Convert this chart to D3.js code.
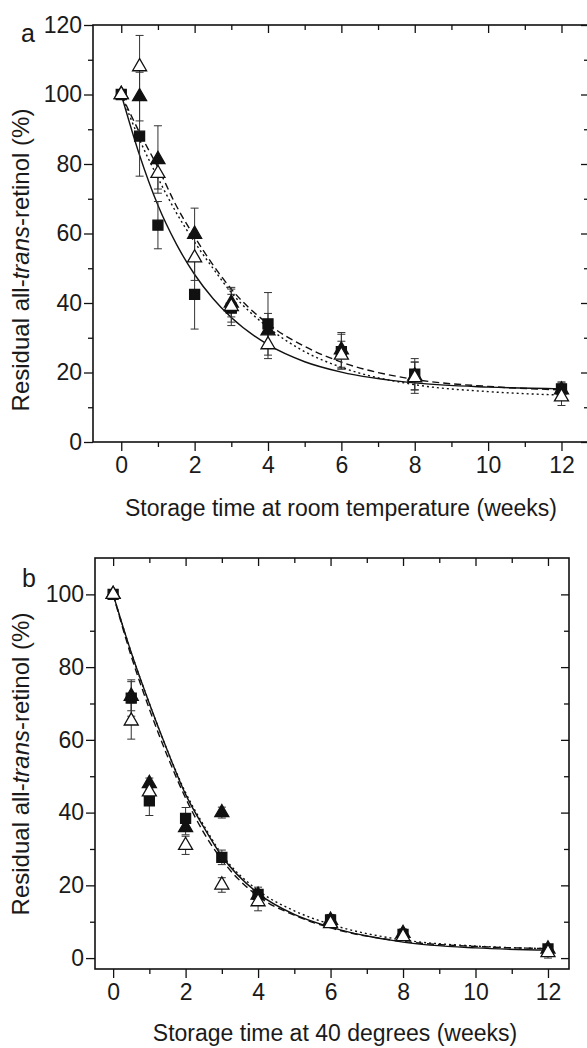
<!DOCTYPE html>
<html lang="en">
<head>
<meta charset="UTF-8">
<title>Residual all-trans-retinol</title>
<script src="https://cdn.jsdelivr.net/npm/d3@7"></script>
<style>
  body { margin: 0; background: #fff; }
  text { font-family: "Liberation Sans", Arial, sans-serif; fill: #1a1a1a; }
</style>
</head>
<body>
<script>
// sampling weeks
var weeks = [0, 0.5, 1, 2, 3, 4, 6, 8, 12];
var fitWeeks = [0, 0.5, 1, 1.5, 2, 2.5, 3, 4, 5, 6, 8, 10, 12];

// panel a - room temperature
var roomSquare      = [100, 88, 62.4, 42.5, 38.5, 34, 26, 19.5, 15.3];
var roomSquareErr   = [0, 11.5, 6.8, 10, 4, 9, 5, 4.5, 2];
var roomFilled      = [100, 99.4, 81.3, 59.8, 40, 32, 26.5, 19, 15];
var roomFilledErr   = [0, 7, 9.7, 7.5, 4, 5, 5, 4, 2];
var roomOpen        = [100, 108, 77.3, 53, 39, 28, 25, 18.5, 13];
var roomOpenErr     = [0, 9, 4.5, 6.5, 5.5, 4, 4, 4.5, 2.5];
var roomFitSolid    = [100, 82.5, 68.1, 57.0, 48.2, 41.3, 35.8, 28.0, 23.1, 20.1, 17.0, 15.8, 15.3];
var roomFitDashed   = [100, 89, 79, 68, 59, 51, 44, 34, 27.5, 23, 18, 16, 15];
var roomFitDotted   = [100, 87, 76, 66, 57.5, 50, 43, 33, 26, 21.5, 16.5, 14.5, 13.5];

// panel b - 40 degrees
var hotSquare      = [100, 71.5, 43.2, 38.4, 27.7, 17.5, 10.5, 6.5, 2.5];
var hotSquareErr   = [0, 5, 4, 3, 2, 2, 1.5, 1.5, 1];
var hotFilled      = [100, 72, 48, 35.9, 40, 17.3, 10.4, 6.8, 2.5];
var hotFilledErr   = [0, 4, 1.5, 2, 1.5, 1.5, 1, 1, 1];
var hotOpen        = [100, 65.2, 45.7, 31, 20.1, 15.5, 9.5, 5.9, 1.5];
var hotOpenErr     = [0, 5, 1.5, 2.5, 2, 2.5, 1, 1, 1.5];
var hotFitSolid    = [100, 84, 70, 57, 45, 36, 28, 17.8, 12, 8.5, 4.4, 2.8, 2.2];
var hotFitDashed   = [100, 83, 68.5, 55.5, 44, 34.5, 27, 17, 11.8, 8.3, 4.6, 3.2, 2.6];
var hotFitDotted   = [100, 84, 70, 57, 45.5, 36.5, 28.5, 18.6, 13, 9.3, 5, 3.3, 2.6];

var xMajor = [0, 2, 4, 6, 8, 10, 12];
var xMinor = [1, 3, 5, 7, 9, 11];

var svg = d3.select("body").append("svg")
    .attr("width", 587)
    .attr("height", 1048);

function drawPanel(p) {
    var x = d3.scaleLinear().domain(p.xDomain).range([p.left, p.right]);
    var y = d3.scaleLinear().domain(p.yDomain).range([p.bottom, p.top]);
    var g = svg.append("g");

    var clipId = "clip-" + p.label;
    g.append("clipPath").attr("id", clipId).append("rect")
        .attr("x", p.left).attr("y", p.top)
        .attr("width", p.right - p.left).attr("height", p.bottom - p.top);

    // axes: bottom (outward), left (outward), top + right (inward)
    function styleAxis(sel) {
        sel.select(".domain").remove();
        sel.selectAll("line").attr("stroke", "#111").attr("stroke-width", 1.3);
        sel.selectAll("text").attr("font-size", 23).style("font-family", "Liberation Sans, Arial, sans-serif").attr("fill", "#1a1a1a");
    }
    g.append("g").attr("transform", "translate(0," + p.bottom + ")")
        .call(d3.axisBottom(x).tickValues(xMajor).tickSize(9).tickPadding(6).tickFormat(d3.format("d")))
        .call(styleAxis);
    g.append("g").attr("transform", "translate(0," + p.bottom + ")")
        .call(d3.axisBottom(x).tickValues(xMinor).tickSize(5).tickFormat(""))
        .call(styleAxis);
    g.append("g").attr("transform", "translate(0," + p.top + ")")
        .call(d3.axisBottom(x).tickValues(xMajor).tickSize(8).tickFormat(""))
        .call(styleAxis);
    g.append("g").attr("transform", "translate(0," + p.top + ")")
        .call(d3.axisBottom(x).tickValues(xMinor).tickSize(5).tickFormat(""))
        .call(styleAxis);
    g.append("g").attr("transform", "translate(" + p.left + ",0)")
        .call(d3.axisLeft(y).tickValues(p.yMajor).tickSize(9).tickPadding(2).tickFormat(d3.format("d")))
        .call(styleAxis);
    g.append("g").attr("transform", "translate(" + p.left + ",0)")
        .call(d3.axisLeft(y).tickValues(p.yMinor).tickSize(5).tickFormat(""))
        .call(styleAxis);
    g.append("g").attr("transform", "translate(" + p.right + ",0)")
        .call(d3.axisRight(y).tickValues(p.yMajor).tickSize(-8).tickFormat(""))
        .call(styleAxis);
    g.append("g").attr("transform", "translate(" + p.right + ",0)")
        .call(d3.axisRight(y).tickValues(p.yMinor).tickSize(-5).tickFormat(""))
        .call(styleAxis);

    g.append("rect")
        .attr("x", p.left).attr("y", p.top)
        .attr("width", p.right - p.left).attr("height", p.bottom - p.top)
        .attr("fill", "none").attr("stroke", "#111").attr("stroke-width", 1.6);

    // fitted curves
    var line = d3.line()
        .x(function (d) { return x(d[0]); })
        .y(function (d) { return y(d[1]); })
        .curve(d3.curveMonotoneX);
    var fits = [
        { v: p.fitSolid, dash: null },
        { v: p.fitDashed, dash: "7,4" },
        { v: p.fitDotted, dash: "2,3" }
    ];
    g.append("g").attr("clip-path", "url(#" + clipId + ")")
        .selectAll("path").data(fits).enter().append("path")
        .attr("d", function (f) { return line(fitWeeks.map(function (t, i) { return [t, f.v[i]]; })); })
        .attr("fill", "none").attr("stroke", "#111").attr("stroke-width", 1.4)
        .attr("stroke-dasharray", function (f) { return f.dash; });

    // error bars + markers
    var series = [
        { v: p.square, e: p.squareErr, type: d3.symbolSquare, size: 100, fill: "#111" },
        { v: p.filled, e: p.filledErr, type: d3.symbolTriangle, size: 85, fill: "#111" },
        { v: p.open, e: p.openErr, type: d3.symbolTriangle, size: 85, fill: "#fff" }
    ];
    series.forEach(function (s) {
        var pts = weeks.map(function (t, i) { return { t: t, v: s.v[i], e: s.e[i] }; })
            .filter(function (d) { return d.e > 0; });
        var eb = g.append("g").attr("stroke", "#333").attr("stroke-width", 1);
        eb.selectAll(".v").data(pts).enter().append("line")
            .attr("x1", function (d) { return x(d.t); }).attr("x2", function (d) { return x(d.t); })
            .attr("y1", function (d) { return y(d.v - d.e); }).attr("y2", function (d) { return y(d.v + d.e); });
        [-1, 1].forEach(function (sg) {
            eb.selectAll(".c" + sg).data(pts).enter().append("line")
                .attr("x1", function (d) { return x(d.t) - 4; }).attr("x2", function (d) { return x(d.t) + 4; })
                .attr("y1", function (d) { return y(d.v + sg * d.e); }).attr("y2", function (d) { return y(d.v + sg * d.e); });
        });
    });
    series.forEach(function (s) {
        g.append("g").selectAll("path").data(weeks).enter().append("path")
            .attr("transform", function (t, i) { return "translate(" + x(t) + "," + y(s.v[i]) + ")"; })
            .attr("d", d3.symbol().type(s.type).size(s.size))
            .attr("fill", s.fill).attr("stroke", "#111").attr("stroke-width", 1.3);
    });

    // labels
    g.append("text").attr("x", p.labelX).attr("y", p.labelY)
        .attr("font-size", 25).text(p.label);
    g.append("text").attr("x", p.xTitleX).attr("y", p.xTitleY)
        .attr("text-anchor", "middle").attr("font-size", 23).text(p.xTitle);
    var yt = g.append("text")
        .attr("transform", "translate(" + p.yTitleX + "," + p.yTitleY + ") rotate(-90)")
        .attr("text-anchor", "middle").attr("font-size", 24);
    yt.append("tspan").text("Residual all-");
    yt.append("tspan").attr("font-style", "italic").text("trans");
    yt.append("tspan").text("-retinol (%)");
}

drawPanel({
    label: "a", labelX: 21, labelY: 42,
    left: 93, right: 589, top: 25, bottom: 442,
    xDomain: [-0.77, 12.75], yDomain: [0, 120],
    yMajor: [0, 20, 40, 60, 80, 100, 120], yMinor: [10, 30, 50, 70, 90, 110],
    square: roomSquare, squareErr: roomSquareErr,
    filled: roomFilled, filledErr: roomFilledErr,
    open: roomOpen, openErr: roomOpenErr,
    fitSolid: roomFitSolid, fitDashed: roomFitDashed, fitDotted: roomFitDotted,
    xTitle: "Storage time at room temperature (weeks)", xTitleX: 341, xTitleY: 516,
    yTitleX: 29, yTitleY: 260
});

drawPanel({
    label: "b", labelX: 22, labelY: 587,
    left: 95, right: 569, top: 558, bottom: 969,
    xDomain: [-0.5, 12.58], yDomain: [-3, 110],
    yMajor: [0, 20, 40, 60, 80, 100], yMinor: [10, 30, 50, 70, 90],
    square: hotSquare, squareErr: hotSquareErr,
    filled: hotFilled, filledErr: hotFilledErr,
    open: hotOpen, openErr: hotOpenErr,
    fitSolid: hotFitSolid, fitDashed: hotFitDashed, fitDotted: hotFitDotted,
    xTitle: "Storage time at 40 degrees (weeks)", xTitleX: 335, xTitleY: 1041,
    yTitleX: 29, yTitleY: 764
});
</script>
</body>
</html>
